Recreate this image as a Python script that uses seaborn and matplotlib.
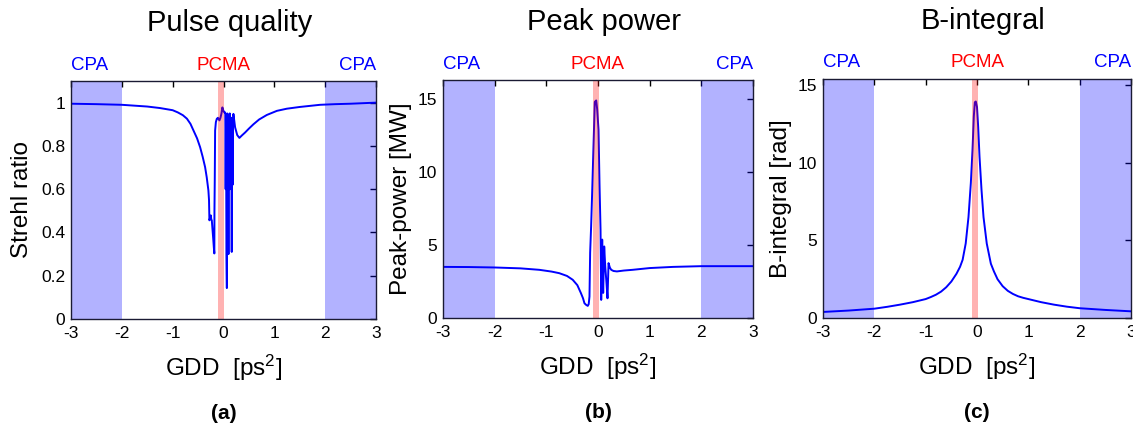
import matplotlib
matplotlib.use("Agg")
import matplotlib.pyplot as plt
import seaborn as sns
import pandas as pd

# ---------------- data ----------------
# (a) Strehl ratio vs GDD
gdd_a = [-3.0, -2.5, -2.0, -1.5, -1.25, -1.0, -0.9, -0.8, -0.72, -0.65, -0.59, -0.52, -0.46,
         -0.41, -0.362, -0.33, -0.297, -0.285, -0.277, -0.262, -0.25, -0.24, -0.23,
         -0.215, -0.2, -0.19, -0.18, -0.178, -0.172, -0.165, -0.15, -0.132, -0.11,
         -0.08, -0.06, -0.04, -0.022, -0.005, 0.015, 0.031,
         0.035, 0.042, 0.05, 0.058, 0.066, 0.074, 0.082, 0.09, 0.098, 0.106, 0.114,
         0.122, 0.13, 0.138, 0.146, 0.154, 0.162, 0.17, 0.178, 0.186, 0.195,
         0.228, 0.27, 0.313, 0.36, 0.425, 0.5, 0.589, 0.7, 0.852, 1.05, 1.246,
         1.5, 1.9, 2.2, 2.5, 2.8, 3.0]
strehl = [0.995, 0.993, 0.99, 0.982, 0.975, 0.965, 0.955, 0.942, 0.926, 0.902, 0.871, 0.835, 0.794,
          0.75, 0.702, 0.655, 0.594, 0.55, 0.456, 0.47, 0.479, 0.46, 0.456,
          0.41, 0.364, 0.33, 0.303, 0.5, 0.64, 0.871, 0.91, 0.925, 0.93,
          0.918, 0.93, 0.95, 0.978, 0.965, 0.955, 0.955,
          0.95, 0.6, 0.94, 0.3, 0.143, 0.95, 0.55, 0.94, 0.3, 0.93, 0.6,
          0.95, 0.62, 0.92, 0.6, 0.93, 0.31, 0.9, 0.62, 0.9, 0.948,
          0.886, 0.85, 0.837, 0.848, 0.862, 0.88, 0.9, 0.922, 0.943, 0.962, 0.972,
          0.98, 0.99, 0.993, 0.995, 0.998, 1.0]

# (b) Peak power [MW] vs GDD
gdd_b = [-3.0, -2.5, -2.0, -1.5, -1.136, -0.9, -0.75, -0.6, -0.49, -0.4, -0.33,
         -0.29, -0.262, -0.23, -0.198, -0.18, -0.165, -0.152, -0.133, -0.113,
         -0.087, -0.062, -0.035, -0.016, 0.01, 0.03, 0.049, 0.062, 0.081, 0.1,
         0.12, 0.14, 0.16, 0.184, 0.204, 0.23, 0.256, 0.3, 0.366, 0.5, 0.67,
         1.0, 1.45, 2.0, 2.5, 3.0]
peak = [3.5, 3.49, 3.46, 3.4, 3.3, 3.18, 3.07, 2.88, 2.62, 2.25, 1.7,
        1.35, 1.01, 0.9, 0.83, 0.95, 1.47, 4.47, 6.28, 8.6,
        11.8, 14.8, 14.9, 14.3, 12.9, 9.04, 6.06, 1.24, 5.37, 1.72,
        4.9, 3.53, 2.6, 1.35, 3.76, 3.45, 3.3, 3.22, 3.19, 3.25, 3.3,
        3.42, 3.5, 3.55, 3.55, 3.55]

# (c) B-integral [rad] vs GDD
gdd_c = [-3.0, -2.5, -2.0, -1.75, -1.5, -1.25, -1.0, -0.9, -0.8, -0.7, -0.6, -0.5,
         -0.4, -0.33, -0.28, -0.22, -0.166, -0.12, -0.088, -0.062, -0.042, -0.023,
         0.0, 0.023, 0.049, 0.088, 0.127, 0.19, 0.27, 0.33, 0.4, 0.5, 0.6, 0.7,
         0.8, 0.9, 1.0, 1.25, 1.5, 1.75, 2.0, 2.5, 3.0]
bint = [0.39, 0.48, 0.6, 0.72, 0.86, 1.02, 1.22, 1.35, 1.5, 1.7, 1.98, 2.35,
        2.85, 3.3, 3.75, 4.8, 6.5, 8.7, 10.8, 13.0, 13.9, 13.95,
        13.6, 12.3, 10.4, 8.25, 6.5, 4.8, 3.5, 3.0, 2.5, 2.05, 1.75, 1.55,
        1.4, 1.3, 1.22, 1.02, 0.86, 0.73, 0.63, 0.52, 0.43]

titles = ["Pulse quality", "Peak power", "B-integral"]
ylabels = ["Strehl ratio", "Peak-power [MW]", "B-integral [rad]"]
panel_tags = ["(a)", "(b)", "(c)"]
xticks = [-3, -2, -1, 0, 1, 2, 3]
yticks_a = [0, 0.2, 0.4, 0.6, 0.8, 1]
yticklabels_a = ["0", "0.2", "0.4", "0.6", "0.8", "1"]
yticks_bc = [0, 5, 10, 15]
ylims = [(0, 1.1), (0, 16.3), (0, 15.4)]
cpa_bands = [(-3, -2), (2, 3)]
pcma_band = (-0.1, 0.015)

# ---------------- style ----------------
sns.set_style("white")
plt.rcParams["font.family"] = ["Liberation Sans", "DejaVu Sans"]
plt.rcParams["mathtext.default"] = "regular"
plt.rcParams["text.color"] = "black"
plt.rcParams["axes.labelcolor"] = "black"
plt.rcParams["xtick.color"] = "black"
plt.rcParams["ytick.color"] = "black"

fig = plt.figure(figsize=(11.33, 4.25), dpi=100)
W, H = 1133, 425
rects = [(71, 81, 376, 319), (443, 80, 753, 318), (823, 79, 1131, 318)]
ylab_x = [-0.125, -0.1, -0.101]

datasets = [
    pd.DataFrame({"GDD": gdd_a, "val": strehl}),
    pd.DataFrame({"GDD": gdd_b, "val": peak}),
    pd.DataFrame({"GDD": gdd_c, "val": bint}),
]

for i, (l, t, r, b) in enumerate(rects):
    ax = fig.add_axes([l / W, 1 - b / H, (r - l) / W, (b - t) / H])
    for lo, hi in cpa_bands:
        ax.axvspan(lo, hi, color="blue", alpha=0.3, lw=0, zorder=1)
    sns.lineplot(data=datasets[i], x="GDD", y="val", ax=ax, sort=False,
                 estimator=None, color="blue", lw=1.4, zorder=3)
    ax.axvspan(pcma_band[0], pcma_band[1], color="red", alpha=0.3, lw=0, zorder=4)
    ax.set_xlim(-3, 3)
    ax.set_ylim(*ylims[i])
    ax.set_xticks(xticks)
    ax.set_xticklabels([str(v) for v in xticks])
    if i == 0:
        ax.set_yticks(yticks_a)
        ax.set_yticklabels(yticklabels_a)
    else:
        ax.set_yticks(yticks_bc)
        ax.set_yticklabels([str(v) for v in yticks_bc])
    ax.tick_params(direction="in", length=4, width=1, top=True, right=True,
                   labelsize=12.5, colors="black")
    ax.tick_params(axis="x", pad=5)
    ax.tick_params(axis="y", pad=4)
    for s in ax.spines.values():
        s.set_color("#1a1a33")
        s.set_linewidth(1.0)
        s.set_zorder(5)
    ax.set_xlabel("")
    ax.set_ylabel(ylabels[i], fontsize=17.5, color="black")
    ax.yaxis.set_label_coords(ylab_x[i], 0.5)
    ax.text(0.5, -0.205, "GDD  [ps$^{2}$]", transform=ax.transAxes,
            ha="center", va="center", fontsize=17.5, color="black")
    ax.text(0.5, -0.395, panel_tags[i], transform=ax.transAxes,
            ha="center", va="center", fontsize=15, fontweight="bold", color="black")
    ax.text(0.52, 1.244, titles[i], transform=ax.transAxes,
            ha="center", va="center", fontsize=21, color="black")
    ax.text(0.0, 1.067, "CPA", transform=ax.transAxes, ha="left",
            va="center", fontsize=13.5, color="blue")
    ax.text(1.0, 1.067, "CPA", transform=ax.transAxes, ha="right",
            va="center", fontsize=13.5, color="blue")
    ax.text(0.5, 1.067, "PCMA", transform=ax.transAxes, ha="center",
            va="center", fontsize=13.5, color="red")

fig.savefig("out.png", dpi=100)
